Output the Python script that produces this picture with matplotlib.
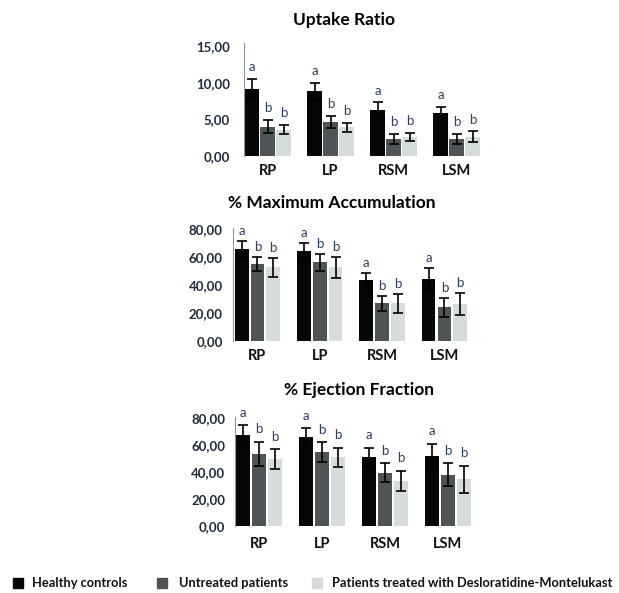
import matplotlib
matplotlib.use("Agg")
import matplotlib.pyplot as plt
from matplotlib.patches import Rectangle
import numpy as np

plt.rcParams['font.family'] = ['Lato', 'DejaVu Sans']

# regions on the x axis
regions = ["RP", "LP", "RSM", "LSM"]
groups = ["Healthy controls", "Untreated patients",
          "Patients treated with Desloratidine-Montelukast"]
group_letters = ["a", "b", "b"]

# Uptake Ratio (mean, error)
uptake_hc = [9.2, 8.8, 6.3, 5.9]
uptake_hc_err = [1.3, 1.2, 1.0, 0.75]
uptake_un = [4.0, 4.6, 2.3, 2.3]
uptake_un_err = [0.9, 0.8, 0.7, 0.7]
uptake_tr = [3.6, 3.9, 2.6, 2.6]
uptake_tr_err = [0.6, 0.6, 0.6, 0.75]

# % Maximum Accumulation
maxacc_hc = [65.6, 64.4, 43.6, 44.1]
maxacc_hc_err = [6.2, 5.5, 5.3, 8.0]
maxacc_un = [55.1, 56.3, 26.8, 24.0]
maxacc_un_err = [5.3, 6.0, 5.5, 7.0]
maxacc_tr = [52.7, 52.7, 26.8, 26.3]
maxacc_tr_err = [6.6, 7.5, 7.0, 8.0]

# % Ejection Fraction
ejec_hc = [67.0, 65.5, 50.7, 51.9]
ejec_hc_err = [7.3, 6.6, 7.0, 8.9]
ejec_un = [53.2, 54.4, 39.4, 37.9]
ejec_un_err = [9.0, 7.5, 7.0, 8.4]
ejec_tr = [49.2, 50.7, 33.5, 34.5]
ejec_tr_err = [7.3, 7.0, 7.4, 10.0]

colors = ['#060606', '#4f5557', '#d6dbdc']
letter_color = '#2c3d63'
tick_color = '#1f2b3d'

fig = plt.figure(figsize=(6.19, 5.93), dpi=100)


def panel(rect, title, title_xy, series, errs, yticks, ylim, xlim,
          width, letter_off, ypad, xpad):
    ax = fig.add_axes(rect)
    x = np.arange(len(regions))
    offs = [-0.254, 0, 0.254]
    for i in range(3):
        ax.bar(x + offs[i], series[i], width, color=colors[i],
               yerr=errs[i], ecolor='black', capsize=3.5,
               error_kw=dict(elinewidth=1.2, capthick=1.2))
        for xi, v, e in zip(x + offs[i], series[i], errs[i]):
            ax.annotate(group_letters[i], (xi, v + e), xytext=(0, letter_off),
                        textcoords='offset points', ha='center', va='center',
                        fontsize=9.5, color=letter_color)
    ax.set_xlim(*xlim)
    ax.set_ylim(*ylim)
    ax.set_yticks(yticks)
    ax.set_yticklabels([f"{t:.2f}".replace('.', ',') for t in yticks],
                       fontsize=9.5, fontweight='bold', color=tick_color)
    ax.set_xticks(x)
    ax.set_xticklabels(regions, fontsize=10.5, fontweight='bold', color='#111111')
    ax.tick_params(axis='y', length=0, pad=ypad)
    ax.tick_params(axis='x', length=0, pad=xpad)
    for s in ['top', 'right', 'bottom']:
        ax.spines[s].set_visible(False)
    ax.spines['left'].set_color('#8a9a9a')
    ax.spines['left'].set_linewidth(0.8)
    fig.text(title_xy[0], title_xy[1], title, ha='center', va='center',
             fontsize=12.5, fontweight='bold', color='black')
    return ax


panel([0.3942, 0.7369, 0.3813, 0.1904], "Uptake Ratio", (344 / 619, 1 - 20 / 593),
      [uptake_hc, uptake_un, uptake_tr],
      [uptake_hc_err, uptake_un_err, uptake_tr_err],
      [0, 5, 10, 15], (0, 15.4), (-0.373, 3.373), 0.24, 8.6, 10, 6)

panel([0.3764, 0.4255, 0.3813, 0.1900], "% Maximum Accumulation", (332 / 619, 1 - 203 / 593),
      [maxacc_hc, maxacc_un, maxacc_tr],
      [maxacc_hc_err, maxacc_un_err, maxacc_tr_err],
      [0, 20, 40, 60, 80], (0, 81), (-0.393, 3.395), 0.22, 7.2, 7.5, 6)

panel([0.3796, 0.1130, 0.3813, 0.1843], "% Ejection Fraction", (359 / 619, 1 - 390 / 593),
      [ejec_hc, ejec_un, ejec_tr],
      [ejec_hc_err, ejec_un_err, ejec_tr_err],
      [0, 20, 40, 60, 80], (0, 80.7), (-0.38, 3.366), 0.23, 9.0, 7, 8)

# legend drawn by hand along the bottom
leg_sq_x = [12.7, 157, 311.7]
leg_txt_x = [31.7, 179.3, 331.7]
for sx, tx, c, lab in zip(leg_sq_x, leg_txt_x, colors, groups):
    fig.add_artist(Rectangle((sx / 619, 1 - 588 / 593), 10 / 619, 10 / 593,
                             transform=fig.transFigure, color=c))
    fig.text(tx / 619, 1 - 583 / 593, lab, ha='left', va='center',
             fontsize=9.3, fontweight='bold', color='#111111')

fig.savefig("out.png", dpi=100)
